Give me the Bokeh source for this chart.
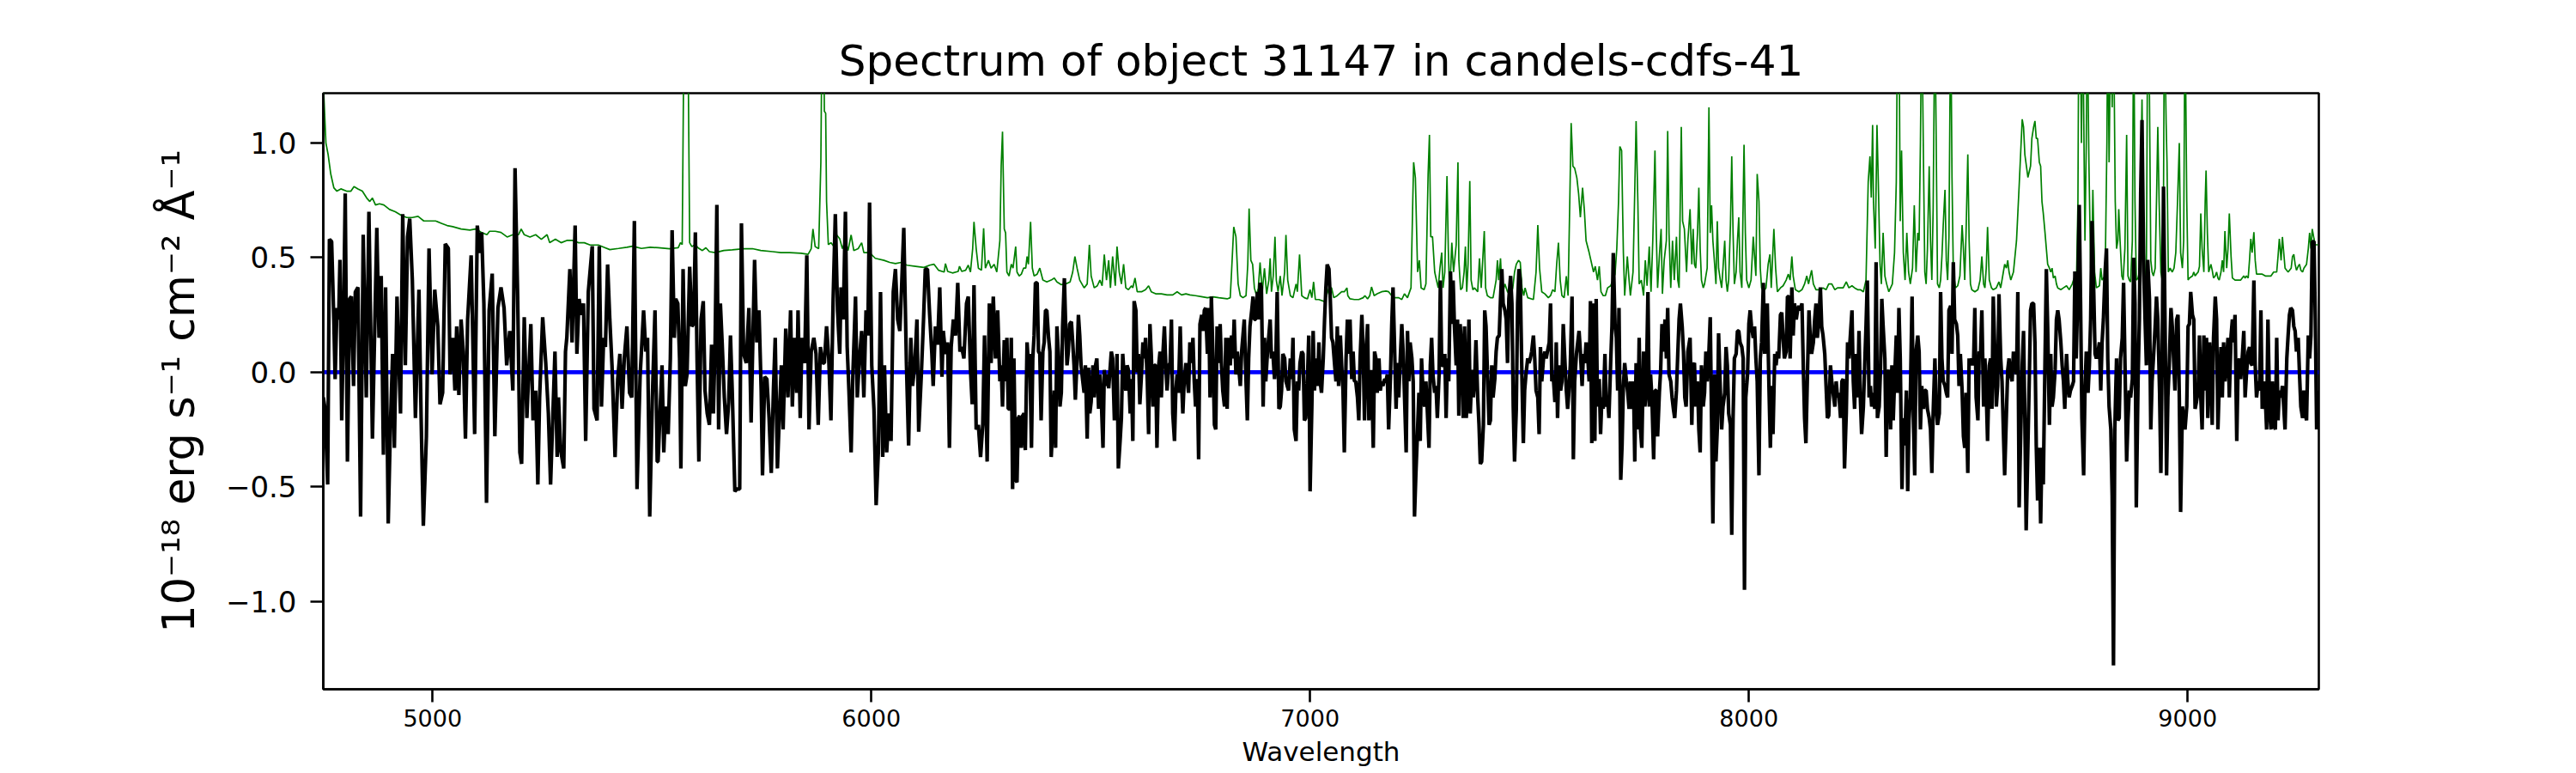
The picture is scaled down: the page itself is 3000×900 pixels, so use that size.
from bokeh.plotting import figure
from bokeh.models import Range1d, FixedTicker, CustomJSTickFormatter, Span
from bokeh.embed import file_html
from bokeh.resources import INLINE

# ---- spectrum (flux, 1e-18 erg/s/cm2/A), by wavelength segment ----
spec_4750_5515 = [(4751,-0.11),(4755,-0.16),(4761,-0.49),(4765,0.58),(4770,0.57),(4775,0.23),(4778,-0.03),(4782,0.28),(4786,0.23),(4789,0.49),(4793,-0.21),(4797,0.20),(4801,0.78),(4806,-0.39),(4811,0.32),(4815,0.33),(4820,-0.06),(4824,0.35),(4830,0.37),(4836,-0.63),(4842,0.60),(4849,-0.11),(4855,0.70),(4863,-0.29),(4873,0.63),(4878,0.15),(4883,0.42),(4888,-0.36),(4893,0.37),(4899,-0.66),(4904,-0.23),(4909,0.08),(4913,-0.33),(4919,0.33),(4923,0.06),(4927,-0.18),(4932,0.69),(4938,0.03),(4943,0.59),(4948,0.67),(4954,0.40),(4961,-0.20),(4969,0.36),(4974,-0.20),(4979,-0.67),(4986,-0.28),(4992,0.54),(4999,-0.01),(5005,0.36),(5012,0.20),(5017,-0.14),(5023,-0.09),(5029,0.56),(5036,0.54),(5040,-0.01),(5046,0.15),(5051,-0.08),(5055,0.20),(5060,-0.10),(5065,0.23),(5070,0.09),(5075,-0.29),(5080,0.23),(5088,0.51),(5096,-0.27),(5102,0.64),(5108,0.52),(5112,0.61),(5117,0.30),(5123,-0.57),(5129,0.27),(5136,0.43),(5142,-0.28),(5149,0.28),(5156,0.37),(5163,0.28),(5169,0.03),(5176,0.18),(5183,-0.08),(5188,0.89),(5194,0.33),(5199,-0.35),(5203,-0.40),(5209,0.24),(5215,-0.20),(5224,0.21),(5229,-0.21),(5235,-0.08),(5240,-0.49),(5244,-0.11),(5251,0.24),(5258,0.04),(5264,-0.18),(5269,-0.49),(5274,-0.20),(5279,0.09),(5284,-0.37),(5287,-0.11),(5292,-0.34),(5299,-0.42),(5303,0.09),(5306,0.15),(5313,0.45),(5318,0.13),(5325,0.64),(5329,0.08),(5334,0.32),(5339,0.25),(5344,0.30),(5349,-0.30),(5355,0.35),(5364,0.55),(5368,-0.16),(5375,-0.21),(5380,0.55),(5385,-0.15),(5390,0.15),(5394,0.11),(5399,0.47),(5404,0.23),(5409,0.03),(5416,-0.37),(5422,-0.03),(5427,0.08),(5432,-0.16),(5437,0.06),(5443,0.20),(5449,-0.09),(5454,-0.11),(5460,0.66),(5466,-0.51),(5473,-0.02),(5481,0.27),(5486,0.09),(5490,0.15),(5495,-0.63),(5501,-0.11),(5507,0.27),(5512,-0.39)]

spec_5515_6295 = [(5514,-0.39),(5519,-0.15),(5523,0.03),(5527,-0.35),(5531,-0.15),(5537,-0.27),(5542,0.06),(5546,0.62),(5551,0.15),(5554,0.32),(5559,0.30),(5563,0.06),(5566,-0.42),(5571,0.45),(5576,-0.06),(5580,-0.01),(5586,0.46),(5591,0.20),(5595,0.21),(5599,0.61),(5603,0.04),(5607,-0.39),(5612,0.23),(5617,0.31),(5621,-0.08),(5626,-0.18),(5631,-0.23),(5636,0.12),(5640,-0.18),(5644,0.13),(5648,0.73),(5652,-0.25),(5656,0.30),(5660,0.13),(5665,-0.11),(5670,-0.27),(5675,-0.13),(5679,0.16),(5683,-0.08),(5689,-0.52),(5694,-0.51),(5700,-0.51),(5704,0.65),(5709,0.08),(5715,0.04),(5721,0.28),(5726,-0.22),(5729,0.05),(5734,0.49),(5739,0.13),(5744,0.27),(5749,-0.08),(5752,-0.45),(5757,-0.02),(5762,-0.03),(5767,-0.20),(5772,-0.44),(5777,-0.07),(5781,0.15),(5786,-0.42),(5791,-0.16),(5795,0.03),(5799,-0.25),(5805,0.19),(5810,-0.11),(5816,0.27),(5820,-0.15),(5825,0.15),(5830,-0.09),(5833,0.27),(5838,-0.20),(5842,0.15),(5848,0.04),(5853,0.51),(5858,-0.25),(5863,0.09),(5869,0.15),(5874,0.08),(5879,-0.23),(5884,0.11),(5889,0.04),(5893,0.04),(5898,0.20),(5903,0.06),(5908,-0.21),(5913,0.32),(5918,0.69),(5923,0.27),(5928,0.08),(5931,0.37),(5936,0.23),(5941,0.70),(5945,0.11),(5949,-0.08),(5954,-0.35),(5958,-0.01),(5964,0.33),(5968,-0.11),(5973,0.06),(5978,0.18),(5983,-0.11),(5988,0.27),(5992,0.16),(5996,0.74),(6001,0.03),(6006,-0.16),(6011,-0.58),(6016,-0.35),(6021,0.35),(6026,-0.37),(6030,0.03),(6035,-0.35),(6040,-0.18),(6045,-0.30),(6050,0.35),(6055,0.45),(6060,0.23),(6065,0.18),(6069,0.37),(6074,0.63),(6080,0.04),(6085,-0.32),(6090,0.15),(6094,-0.06),(6099,0.03),(6104,0.23),(6108,-0.26),(6114,-0.01),(6119,0.23),(6123,0.45),(6128,0.45),(6133,0.25),(6138,0.08),(6141,-0.06),(6146,0.20),(6151,0.12),(6156,0.37),(6161,-0.02),(6164,0.18),(6169,0.08),(6174,0.13),(6178,-0.33),(6182,0.11),(6187,0.23),(6192,0.16),(6197,0.39),(6202,0.09),(6206,0.11),(6211,0.06),(6217,0.30),(6221,0.33),(6226,0.01),(6230,-0.14),(6234,0.38),(6239,-0.25),(6244,-0.23),(6249,-0.37),(6254,-0.23),(6258,0.16),(6264,-0.39),(6269,0.30),(6273,0.04),(6278,0.33),(6283,0.06),(6288,0.27),(6293,-0.04)]

spec_6295_7080 = [(6296,0.03),(6299,-0.15),(6303,0.14),(6306,-0.04),(6309,0.15),(6312,-0.16),(6316,-0.16),(6319,0.15),(6322,-0.51),(6325,0.06),(6329,-0.47),(6332,-0.48),(6335,-0.20),(6338,-0.19),(6342,-0.33),(6345,-0.19),(6348,-0.18),(6351,-0.34),(6355,0.13),(6358,0.03),(6361,0.08),(6365,-0.33),(6368,0.06),(6371,0.16),(6374,0.39),(6378,0.39),(6381,0.09),(6384,0.08),(6387,-0.21),(6391,0.09),(6394,0.13),(6397,0.27),(6400,0.27),(6404,0.15),(6407,0.09),(6410,-0.37),(6413,-0.25),(6417,-0.08),(6420,-0.33),(6423,0.20),(6426,0.09),(6430,-0.15),(6433,-0.09),(6436,0.20),(6440,0.41),(6443,0.20),(6446,0.03),(6449,0.09),(6452,0.21),(6456,0.22),(6459,0.13),(6462,0.03),(6465,-0.12),(6469,0.06),(6472,0.25),(6475,0.16),(6478,0.03),(6482,-0.04),(6485,-0.09),(6488,0.03),(6492,-0.29),(6495,0.02),(6498,-0.18),(6501,-0.13),(6505,0.03),(6508,-0.11),(6511,0.03),(6514,0.06),(6518,-0.16),(6521,-0.01),(6524,-0.11),(6528,-0.33),(6531,0.01),(6534,-0.06),(6537,-0.01),(6541,-0.07),(6544,0.01),(6547,0.09),(6550,0.06),(6554,-0.21),(6557,-0.16),(6560,0.08),(6563,-0.42),(6567,-0.30),(6570,-0.20),(6573,0.08),(6576,-0.01),(6580,-0.08),(6583,0.03),(6586,0.01),(6590,-0.18),(6593,-0.03),(6596,-0.30),(6599,0.31),(6603,0.27),(6606,0.00),(6609,0.08),(6612,-0.14),(6616,0.00),(6619,0.13),(6622,0.06),(6625,0.15),(6629,-0.04),(6632,-0.27),(6635,0.21),(6638,0.08),(6642,-0.15),(6645,0.03),(6648,0.03),(6651,-0.33),(6655,0.03),(6658,0.09),(6661,-0.11),(6664,0.06),(6668,0.20),(6671,0.04),(6674,-0.08),(6678,0.03),(6681,0.04),(6684,0.23),(6687,-0.18),(6691,-0.30),(6694,-0.08),(6697,-0.01),(6700,-0.09),(6704,0.20),(6707,-0.04),(6710,-0.18),(6713,-0.04),(6717,0.04),(6720,-0.03),(6723,-0.09),(6726,0.13),(6730,0.04),(6733,0.15),(6736,-0.04),(6739,-0.15),(6743,-0.03),(6746,-0.38),(6749,0.21),(6753,0.25),(6756,0.18),(6759,0.27),(6762,0.28),(6766,0.08),(6769,0.28),(6772,-0.11),(6775,0.33),(6779,0.04),(6782,-0.23),(6785,-0.25),(6788,0.20),(6792,0.04),(6795,0.21),(6798,0.03),(6801,-0.08),(6805,-0.15),(6808,0.15),(6811,-0.16),(6814,0.15),(6818,0.03),(6821,0.16),(6824,0.06),(6827,0.23),(6831,-0.01),(6834,0.09),(6837,0.03),(6841,-0.06),(6844,0.09),(6847,0.16),(6850,0.23),(6854,-0.04),(6857,-0.21),(6860,0.06),(6863,0.20),(6867,0.27),(6870,0.33),(6873,0.23),(6876,0.23),(6880,0.35),(6883,0.23),(6886,0.39),(6889,0.37),(6893,-0.15),(6896,0.15),(6899,-0.04),(6902,0.06),(6906,0.16),(6909,0.23),(6912,0.06),(6915,0.09),(6919,-0.03),(6922,0.06),(6925,0.35),(6929,-0.16),(6932,-0.15),(6935,-0.08),(6938,0.08),(6942,0.06),(6945,-0.04),(6948,-0.06),(6951,-0.08),(6955,0.06),(6958,-0.03),(6961,0.15),(6964,-0.25),(6968,-0.30),(6971,-0.04),(6974,-0.08),(6977,0.04),(6981,0.09),(6984,0.08),(6987,-0.21),(6990,-0.20),(6994,-0.03),(6997,0.16),(7000,-0.52),(7004,-0.15),(7007,0.18),(7010,-0.08),(7013,0.06),(7017,-0.06),(7020,0.13),(7023,-0.04),(7026,-0.09),(7030,0.06),(7033,0.23),(7036,0.37),(7039,0.47),(7043,0.45),(7046,0.32),(7049,0.15),(7052,0.13),(7056,0.03),(7059,-0.04),(7062,0.20),(7065,-0.06),(7069,0.16),(7072,0.03),(7075,-0.08)]

spec_7080_7860 = [(7078,-0.35),(7082,0.06),(7085,0.23),(7088,0.08),(7091,0.23),(7095,-0.03),(7098,0.09),(7101,-0.04),(7104,-0.04),(7108,-0.11),(7111,-0.21),(7114,0.06),(7118,0.25),(7121,0.09),(7124,-0.21),(7127,0.06),(7131,0.21),(7134,-0.21),(7137,-0.11),(7140,0.01),(7144,-0.33),(7147,0.09),(7150,0.06),(7153,-0.09),(7157,0.06),(7160,-0.08),(7163,-0.04),(7166,-0.06),(7170,-0.03),(7173,-0.04),(7176,-0.01),(7179,-0.25),(7183,-0.03),(7186,0.20),(7189,0.37),(7192,0.15),(7196,-0.16),(7199,0.04),(7202,-0.11),(7206,0.08),(7209,0.21),(7212,0.09),(7215,-0.09),(7219,-0.35),(7222,0.18),(7225,-0.04),(7228,0.13),(7232,0.06),(7235,-0.04),(7238,-0.63),(7241,-0.45),(7245,-0.25),(7248,-0.09),(7251,-0.30),(7254,0.06),(7258,-0.11),(7261,-0.15),(7264,-0.04),(7267,-0.16),(7271,-0.33),(7274,0.03),(7277,0.15),(7280,-0.01),(7284,-0.09),(7287,-0.06),(7290,-0.20),(7294,-0.01),(7297,0.40),(7300,0.03),(7303,0.03),(7307,0.08),(7310,-0.20),(7313,0.06),(7316,-0.04),(7320,0.44),(7323,0.21),(7326,0.40),(7329,0.20),(7333,0.03),(7336,0.23),(7339,-0.19),(7342,0.21),(7346,0.09),(7349,-0.20),(7352,0.20),(7356,-0.20),(7359,-0.06),(7362,0.23),(7365,-0.18),(7369,0.01),(7372,-0.11),(7375,-0.04),(7378,0.14),(7382,-0.11),(7385,-0.23),(7388,-0.40),(7391,-0.39),(7395,-0.23),(7398,0.27),(7401,0.20),(7404,0.01),(7408,-0.23),(7411,-0.21),(7414,0.03),(7417,-0.11),(7421,-0.03),(7424,0.09),(7427,0.15),(7431,0.16),(7434,0.32),(7437,0.45),(7440,0.30),(7444,0.27),(7447,0.23),(7450,0.04),(7453,0.32),(7457,0.42),(7460,0.30),(7463,-0.15),(7466,-0.39),(7470,-0.16),(7473,0.30),(7476,0.45),(7479,0.40),(7483,-0.04),(7486,-0.31),(7489,-0.08),(7492,-0.01),(7496,0.06),(7499,0.04),(7502,0.06),(7505,0.09),(7509,0.16),(7512,0.06),(7515,-0.08),(7519,-0.11),(7522,-0.27),(7525,0.11),(7528,-0.04),(7532,0.06),(7535,0.09),(7538,0.06),(7541,0.09),(7545,0.13),(7548,0.30),(7551,-0.04),(7554,-0.01),(7558,-0.13),(7561,0.13),(7564,-0.20),(7567,0.03),(7571,-0.08),(7574,-0.04),(7577,0.21),(7580,0.08),(7584,-0.08),(7587,-0.16),(7590,-0.08),(7593,0.03),(7597,0.33),(7600,-0.38),(7603,-0.04),(7607,0.08),(7610,0.13),(7613,0.18),(7616,0.09),(7620,-0.06),(7623,0.08),(7626,0.04),(7629,0.13),(7633,0.06),(7636,-0.04),(7639,0.31),(7642,-0.31),(7646,0.30),(7649,-0.30),(7652,0.32),(7655,-0.15),(7659,-0.03),(7662,-0.27),(7665,-0.11),(7668,-0.16),(7672,0.08),(7675,-0.15),(7678,-0.11),(7681,-0.20),(7685,0.04),(7688,0.20),(7691,0.52),(7695,0.21),(7698,0.15),(7701,-0.08),(7704,0.28),(7708,-0.47),(7711,-0.32),(7714,-0.06),(7717,0.04),(7721,-0.04),(7724,-0.09),(7727,-0.16),(7730,-0.04),(7734,-0.16),(7737,-0.04),(7740,-0.39),(7743,0.04),(7747,-0.25),(7750,0.15),(7753,-0.25),(7756,-0.33),(7760,0.09),(7763,-0.15),(7766,-0.09),(7770,0.35),(7773,-0.15),(7776,-0.01),(7779,-0.11),(7783,-0.38),(7786,-0.08),(7789,-0.08),(7792,-0.28),(7796,-0.09),(7799,0.01),(7802,0.21),(7805,0.09),(7809,0.23),(7812,0.06),(7815,0.28),(7818,-0.01),(7822,-0.04),(7825,-0.11),(7828,-0.16),(7831,-0.20),(7835,-0.08),(7838,0.08),(7841,0.23),(7844,0.30),(7848,0.20),(7851,0.09),(7854,-0.11),(7857,-0.15),(7861,0.09)]

spec_7860_8645 = [(7866,0.15),(7870,-0.23),(7873,0.03),(7876,0.04),(7879,-0.15),(7883,-0.04),(7886,-0.25),(7889,-0.35),(7892,0.03),(7896,-0.15),(7899,-0.09),(7902,0.09),(7905,-0.04),(7909,0.09),(7912,0.24),(7915,-0.21),(7918,-0.66),(7922,-0.01),(7925,-0.39),(7928,-0.25),(7931,0.17),(7935,-0.08),(7938,-0.25),(7941,-0.15),(7945,-0.09),(7948,0.11),(7951,0.03),(7954,-0.18),(7958,-0.23),(7961,-0.71),(7964,-0.20),(7967,0.06),(7971,0.08),(7974,0.18),(7977,0.18),(7980,0.13),(7984,0.11),(7987,0.06),(7990,-0.95),(7993,-0.11),(7997,-0.01),(8000,0.21),(8003,0.27),(8006,0.20),(8010,0.15),(8013,0.20),(8016,0.06),(8019,-0.04),(8023,-0.45),(8026,0.06),(8029,0.13),(8033,0.39),(8036,0.08),(8039,0.23),(8042,0.30),(8046,-0.08),(8049,-0.33),(8052,-0.06),(8055,-0.27),(8059,0.08),(8062,0.03),(8065,0.09),(8068,0.06),(8072,0.25),(8075,0.26),(8078,0.15),(8081,0.06),(8085,0.09),(8088,0.33),(8091,0.33),(8094,0.06),(8098,0.37),(8101,0.16),(8104,0.30),(8108,0.23),(8111,0.27),(8114,0.29),(8117,0.27),(8121,0.30),(8124,0.03),(8127,-0.20),(8130,-0.31),(8134,0.03),(8137,0.27),(8140,0.15),(8143,0.08),(8147,0.13),(8150,0.23),(8153,0.30),(8156,0.15),(8160,0.23),(8163,0.37),(8166,0.20),(8169,0.16),(8173,0.08),(8176,-0.06),(8179,-0.20),(8182,-0.19),(8186,0.03),(8189,-0.04),(8192,-0.09),(8196,-0.15),(8199,-0.04),(8202,-0.11),(8205,-0.09),(8209,-0.20),(8212,-0.04),(8215,-0.03),(8218,-0.42),(8222,-0.18),(8225,0.13),(8228,0.06),(8231,0.15),(8235,0.27),(8238,-0.04),(8241,-0.16),(8244,0.08),(8248,-0.11),(8251,0.18),(8254,-0.11),(8257,-0.27),(8261,-0.15),(8264,0.03),(8267,0.20),(8270,0.40),(8274,-0.11),(8277,-0.06),(8280,-0.15),(8284,-0.09),(8287,-0.16),(8290,0.48),(8293,-0.20),(8297,-0.15),(8300,0.01),(8303,0.32),(8306,0.20),(8310,0.06),(8313,-0.37),(8316,-0.01),(8319,0.01),(8323,-0.25),(8326,0.03),(8329,-0.21),(8332,-0.04),(8336,0.16),(8339,-0.09),(8342,0.28),(8345,0.06),(8349,-0.51),(8352,-0.20),(8355,-0.32),(8359,-0.08),(8362,-0.52),(8365,-0.21),(8368,-0.11),(8372,0.33),(8375,-0.21),(8378,-0.45),(8381,0.09),(8385,0.16),(8388,0.09),(8391,-0.25),(8394,-0.06),(8398,-0.16),(8401,-0.08),(8404,-0.08),(8407,-0.16),(8411,-0.20),(8414,-0.25),(8417,-0.44),(8420,-0.18),(8424,0.06),(8427,-0.16),(8430,-0.23),(8434,-0.18),(8437,0.35),(8440,0.06),(8443,-0.04),(8447,-0.06),(8450,-0.09),(8453,-0.11),(8456,0.27),(8460,0.29),(8463,0.08),(8466,0.48),(8469,0.23),(8473,0.21),(8476,0.16),(8479,-0.06),(8482,0.08),(8486,-0.08),(8489,-0.28),(8492,-0.33),(8495,-0.09),(8499,-0.44),(8502,0.06),(8505,0.03),(8508,0.06),(8512,0.03),(8515,0.28),(8518,-0.11),(8522,-0.21),(8525,0.09),(8528,0.08),(8531,0.27),(8535,-0.15),(8538,0.06),(8541,-0.08),(8544,-0.30),(8548,0.03),(8551,0.06),(8554,-0.16),(8557,0.33),(8561,0.06),(8564,-0.15),(8567,-0.06),(8570,0.34),(8574,0.06),(8577,-0.04),(8580,-0.25),(8583,-0.45),(8587,-0.18),(8590,0.01),(8593,0.06),(8596,-0.01),(8600,-0.04),(8603,0.09),(8606,0.06),(8610,-0.01),(8613,0.35),(8616,-0.59),(8619,-0.32),(8623,0.03),(8626,0.18),(8629,-0.20),(8632,-0.69),(8636,-0.32),(8639,-0.04),(8642,0.27),(8645,0.30)]

spec_8645_9300 = [(8649,0.30),(8652,0.13),(8655,-0.32),(8658,-0.56),(8662,-0.33),(8665,-0.66),(8668,-0.33),(8671,-0.49),(8675,0.06),(8678,0.45),(8681,0.20),(8685,-0.23),(8688,0.08),(8691,-0.15),(8694,-0.11),(8698,0.01),(8701,0.23),(8704,0.27),(8707,0.23),(8711,0.13),(8714,0.03),(8717,-0.04),(8720,-0.16),(8724,0.08),(8727,-0.04),(8730,-0.11),(8733,-0.08),(8737,-0.06),(8740,-0.04),(8743,0.44),(8746,0.06),(8750,0.37),(8753,0.73),(8756,0.30),(8759,-0.20),(8763,-0.45),(8766,-0.08),(8769,0.09),(8773,-0.09),(8776,0.03),(8779,0.23),(8782,0.66),(8786,0.35),(8789,0.08),(8792,0.06),(8795,0.08),(8799,0.13),(8802,-0.08),(8805,0.13),(8808,0.23),(8812,0.44),(8815,0.54),(8818,0.06),(8821,-0.15),(8825,-0.25),(8828,-0.54),(8831,-1.28),(8834,-0.25),(8838,0.06),(8841,-0.21),(8844,-0.20),(8847,0.06),(8851,0.15),(8854,0.39),(8857,0.06),(8861,-0.39),(8864,-0.21),(8867,-0.08),(8870,-0.11),(8874,-0.03),(8877,0.50),(8880,0.30),(8883,-0.59),(8887,-0.04),(8890,0.23),(8893,0.78),(8896,1.10),(8900,0.44),(8903,0.23),(8906,0.03),(8909,0.49),(8913,0.32),(8916,-0.25),(8919,-0.04),(8922,0.06),(8926,0.20),(8929,0.33),(8932,0.23),(8936,-0.08),(8939,-0.44),(8942,0.06),(8945,0.81),(8949,0.13),(8952,-0.45),(8955,-0.11),(8958,0.03),(8962,0.28),(8965,0.20),(8968,0.06),(8971,-0.08),(8975,0.23),(8978,0.25),(8981,-0.11),(8984,-0.61),(8988,-0.15),(8991,-0.20),(8994,-0.25),(8998,-0.15),(9001,0.20),(9004,0.21),(9007,0.35),(9011,0.25),(9014,0.23),(9017,-0.16),(9020,-0.13),(9024,-0.08),(9027,0.16),(9030,-0.11),(9033,-0.25),(9037,0.16),(9040,-0.08),(9043,0.15),(9046,-0.20),(9050,0.13),(9053,0.01),(9056,-0.23),(9059,0.15),(9063,0.33),(9066,0.23),(9069,-0.25),(9072,-0.06),(9076,0.11),(9079,-0.11),(9082,0.13),(9085,-0.04),(9089,0.06),(9092,0.15),(9095,-0.11),(9099,0.16),(9102,0.23),(9105,0.13),(9108,0.25),(9112,-0.30),(9115,0.03),(9118,0.06),(9121,-0.03),(9125,0.08),(9128,0.18),(9131,-0.11),(9134,-0.01),(9138,0.09),(9141,0.11),(9144,0.04),(9147,0.03),(9151,0.40),(9154,0.03),(9157,-0.11),(9161,-0.04),(9164,-0.08),(9167,0.27),(9170,-0.16),(9174,-0.04),(9177,-0.11),(9180,-0.25),(9183,0.23),(9187,-0.18),(9190,-0.25),(9193,-0.04),(9196,-0.23),(9200,-0.25),(9203,0.15),(9206,-0.21),(9209,-0.08),(9213,-0.11),(9216,-0.06),(9219,-0.15),(9222,-0.25),(9226,0.06),(9229,0.16),(9232,0.25),(9235,0.28),(9239,0.27),(9242,0.20),(9245,0.18),(9248,0.09),(9252,0.15),(9255,-0.01),(9258,-0.15),(9262,-0.20),(9265,-0.08),(9268,-0.18),(9271,-0.21),(9275,0.16),(9278,0.06),(9281,0.16),(9284,0.57),(9288,0.57),(9291,0.23),(9294,-0.25),(9297,-0.08)]

# ---- noise / sky spectrum (green) ----
sky_4750_5520 = [(4751,1.35),(4752,1.22),(4757,1.00),(4762,0.95),(4768,0.865),(4775,0.805),(4782,0.79),(4791,0.80),(4804,0.79),(4814,0.79),(4821,0.81),(4830,0.80),(4840,0.79),(4850,0.76),(4857,0.745),(4863,0.76),(4870,0.73),(4879,0.735),(4889,0.73),(4902,0.71),(4915,0.70),(4928,0.685),(4941,0.675),(4954,0.675),(4967,0.68),(4980,0.66),(4993,0.66),(5007,0.66),(5020,0.65),(5033,0.64),(5046,0.635),(5065,0.625),(5085,0.62),(5098,0.625),(5111,0.61),(5124,0.60),(5130,0.615),(5143,0.615),(5156,0.61),(5170,0.59),(5183,0.60),(5196,0.60),(5202,0.625),(5209,0.60),(5222,0.59),(5235,0.60),(5248,0.58),(5261,0.60),(5267,0.565),(5280,0.58),(5293,0.565),(5306,0.575),(5319,0.575),(5333,0.565),(5346,0.565),(5359,0.555),(5378,0.555),(5391,0.545),(5404,0.535),(5424,0.54),(5443,0.545),(5456,0.55),(5476,0.54),(5496,0.545)]

sky_5520_6295 = [(5514,0.543),(5540,0.539),(5560,0.543),(5565,0.565),(5569,0.557),(5573,1.5),(5576,2.5),(5579,2.5),(5582,1.5),(5586,0.565),(5591,0.548),(5599,0.557),(5605,0.543),(5615,0.531),(5623,0.543),(5631,0.526),(5644,0.522),(5664,0.531),(5683,0.534),(5709,0.539),(5729,0.539),(5748,0.531),(5775,0.526),(5794,0.522),(5814,0.522),(5840,0.519),(5856,0.514),(5863,0.539),(5867,0.625),(5872,0.548),(5880,0.539),(5885,0.916),(5888,1.6),(5891,1.6),(5893,1.139),(5896,1.130),(5898,0.745),(5902,0.557),(5908,0.565),(5915,0.548),(5921,0.599),(5928,0.582),(5934,0.539),(5941,0.574),(5947,0.531),(5954,0.599),(5960,0.531),(5970,0.539),(5978,0.565),(5983,0.522),(5996,0.522),(6009,0.497),(6029,0.488),(6042,0.479),(6055,0.474),(6068,0.479),(6081,0.467),(6101,0.462),(6120,0.457),(6133,0.467),(6143,0.471),(6153,0.445),(6166,0.437),(6169,0.474),(6174,0.440),(6185,0.433),(6198,0.440),(6201,0.462),(6206,0.440),(6215,0.445),(6221,0.467),(6226,0.437),(6231,0.539),(6234,0.656),(6239,0.539),(6244,0.454),(6251,0.445),(6256,0.628),(6260,0.454),(6267,0.488),(6273,0.454),(6280,0.471),(6286,0.437),(6293,0.574)]

sky_6295_7080 = [(6296,0.90),(6299,1.05),(6303,0.625),(6306,0.608),(6309,0.437),(6314,0.420),(6319,0.471),(6323,0.454),(6329,0.548),(6332,0.437),(6337,0.420),(6342,0.428),(6347,0.454),(6352,0.454),(6355,0.505),(6358,0.471),(6363,0.656),(6367,0.454),(6371,0.420),(6378,0.428),(6384,0.454),(6391,0.402),(6400,0.394),(6410,0.402),(6417,0.411),(6423,0.394),(6433,0.382),(6443,0.385),(6453,0.394),(6459,0.437),(6464,0.505),(6469,0.454),(6475,0.402),(6485,0.368),(6492,0.385),(6497,0.556),(6501,0.420),(6508,0.368),(6515,0.377),(6521,0.402),(6526,0.377),(6531,0.514),(6536,0.402),(6541,0.488),(6545,0.368),(6550,0.505),(6556,0.377),(6560,0.548),(6565,0.437),(6570,0.385),(6575,0.471),(6580,0.368),(6586,0.360),(6593,0.377),(6596,0.368),(6601,0.411),(6606,0.351),(6616,0.351),(6625,0.360),(6632,0.377),(6638,0.351),(6648,0.342),(6661,0.342),(6674,0.337),(6687,0.337),(6697,0.351),(6707,0.337),(6717,0.342),(6726,0.337),(6739,0.334),(6752,0.330),(6766,0.325),(6779,0.329),(6792,0.325),(6811,0.320),(6818,0.325),(6821,0.437),(6826,0.634),(6831,0.591),(6836,0.385),(6841,0.334),(6847,0.325),(6854,0.334),(6858,0.471),(6861,0.714),(6865,0.488),(6869,0.471),(6873,0.368),(6878,0.334),(6882,0.368),(6886,0.479),(6891,0.351),(6896,0.454),(6901,0.342),(6906,0.402),(6909,0.497),(6912,0.351),(6916,0.420),(6920,0.591),(6923,0.402),(6927,0.351),(6932,0.420),(6936,0.334),(6942,0.437),(6945,0.599),(6949,0.402),(6955,0.334),(6961,0.325),(6968,0.385),(6971,0.351),(6976,0.514),(6981,0.334),(6987,0.325),(6994,0.320),(7000,0.360),(7004,0.325),(7008,0.394),(7012,0.317),(7020,0.317),(7033,0.308),(7043,0.368),(7049,0.368),(7054,0.325),(7062,0.334),(7072,0.351)]

sky_7080_7860 = [(7078,0.351),(7084,0.368),(7086,0.334),(7091,0.320),(7101,0.317),(7111,0.317),(7121,0.325),(7125,0.334),(7131,0.320),(7136,0.334),(7140,0.372),(7146,0.334),(7153,0.342),(7163,0.351),(7173,0.354),(7179,0.351),(7186,0.334),(7192,0.325),(7202,0.325),(7209,0.317),(7215,0.342),(7222,0.325),(7230,0.368),(7234,0.745),(7236,0.916),(7240,0.848),(7245,0.437),(7249,0.488),(7253,0.368),(7260,0.360),(7264,0.385),(7269,0.865),(7272,1.036),(7275,0.591),(7279,0.591),(7284,0.437),(7288,0.402),(7292,0.368),(7296,0.454),(7300,0.522),(7303,0.368),(7307,0.437),(7312,0.856),(7315,0.539),(7318,0.334),(7323,0.565),(7327,0.437),(7333,0.556),(7337,0.916),(7339,0.488),(7343,0.360),(7347,0.368),(7351,0.437),(7354,0.548),(7357,0.351),(7360,0.471),(7364,0.834),(7367,0.402),(7371,0.360),(7375,0.368),(7382,0.351),(7386,0.497),(7390,0.368),(7397,0.616),(7400,0.368),(7404,0.334),(7411,0.325),(7417,0.325),(7424,0.402),(7427,0.488),(7430,0.402),(7434,0.497),(7438,0.334),(7444,0.385),(7450,0.351),(7457,0.334),(7462,0.368),(7466,0.437),(7470,0.471),(7475,0.488),(7479,0.479),(7483,0.368),(7487,0.334),(7490,0.368),(7496,0.325),(7509,0.317),(7515,0.437),(7519,0.642),(7523,0.454),(7528,0.351),(7535,0.342),(7543,0.325),(7548,0.334),(7553,0.360),(7558,0.351),(7562,0.471),(7566,0.565),(7570,0.402),(7574,0.334),(7579,0.325),(7584,0.419),(7588,0.334),(7592,0.762),(7595,1.087),(7599,0.899),(7603,0.890),(7608,0.848),(7612,0.779),(7616,0.676),(7621,0.805),(7625,0.710),(7629,0.574),(7636,0.522),(7640,0.488),(7646,0.437),(7650,0.462),(7655,0.402),(7659,0.462),(7663,0.351),(7668,0.334),(7673,0.334),(7678,0.368),(7685,0.377),(7690,0.402),(7695,0.428),(7699,0.539),(7703,0.745),(7706,0.985),(7710,0.967),(7714,0.522),(7717,0.334),(7723,0.505),(7727,0.402),(7730,0.334),(7736,0.437),(7740,0.796),(7743,1.096),(7747,0.745),(7750,0.385),(7755,0.402),(7760,0.334),(7764,0.488),(7768,0.377),(7773,0.548),(7777,0.351),(7781,0.574),(7786,0.967),(7789,0.608),(7792,0.368),(7796,0.505),(7800,0.625),(7803,0.342),(7807,0.488),(7812,0.574),(7815,1.053),(7818,0.608),(7822,0.368),(7826,0.574),(7830,0.402),(7835,0.591),(7838,0.402),(7841,0.368),(7846,1.07),(7849,0.659),(7853,0.625),(7858,0.437),(7861,0.574)]

sky_7860_8645 = [(7866,0.711),(7870,0.471),(7873,0.625),(7876,0.471),(7879,0.454),(7883,0.608),(7886,0.805),(7889,0.539),(7892,0.402),(7896,0.368),(7899,0.385),(7902,0.420),(7905,0.454),(7909,1.156),(7912,0.608),(7915,0.728),(7918,0.574),(7922,0.471),(7925,0.385),(7928,0.659),(7931,0.454),(7935,0.402),(7938,0.368),(7941,0.454),(7945,0.574),(7948,0.402),(7951,0.351),(7954,0.402),(7958,0.642),(7961,0.942),(7964,0.608),(7967,0.385),(7971,0.437),(7974,0.574),(7977,0.676),(7980,0.437),(7984,0.368),(7987,0.745),(7989,0.993),(7992,0.608),(7995,0.402),(8000,0.368),(8005,0.402),(8010,0.591),(8013,0.505),(8016,0.420),(8019,0.865),(8023,0.745),(8026,0.454),(8029,0.368),(8033,0.351),(8039,0.368),(8044,0.471),(8048,0.514),(8051,0.368),(8055,0.539),(8057,0.625),(8061,0.454),(8065,0.351),(8072,0.368),(8078,0.377),(8085,0.402),(8090,0.428),(8094,0.402),(8098,0.505),(8101,0.420),(8106,0.360),(8114,0.351),(8121,0.360),(8127,0.385),(8132,0.420),(8136,0.385),(8140,0.420),(8143,0.445),(8147,0.385),(8153,0.360),(8163,0.360),(8169,0.368),(8176,0.360),(8182,0.385),(8189,0.385),(8196,0.360),(8202,0.368),(8209,0.368),(8215,0.368),(8222,0.394),(8228,0.368),(8235,0.377),(8241,0.368),(8248,0.360),(8254,0.360),(8261,0.351),(8267,0.402),(8272,0.830),(8276,0.942),(8279,0.762),(8282,1.079),(8284,0.745),(8288,0.539),(8292,1.079),(8295,0.830),(8299,0.471),(8302,0.385),(8306,0.608),(8310,0.420),(8314,0.385),(8319,0.351),(8327,0.385),(8332,0.522),(8336,0.830),(8339,1.6),(8342,1.6),(8345,0.659),(8348,0.967),(8352,0.522),(8356,0.402),(8360,0.608),(8364,0.437),(8368,0.385),(8373,0.454),(8377,0.728),(8381,0.437),(8385,0.608),(8388,0.574),(8391,1.0),(8394,1.6),(8398,0.916),(8401,0.437),(8404,0.385),(8407,0.539),(8411,0.899),(8414,0.574),(8417,0.402),(8420,0.711),(8424,1.6),(8427,1.0),(8430,0.385),(8434,0.368),(8437,0.402),(8440,0.505),(8443,0.642),(8447,0.796),(8450,0.488),(8453,0.402),(8456,0.591),(8460,1.6),(8463,0.848),(8466,0.437),(8471,0.368),(8476,0.377),(8481,0.420),(8486,0.642),(8489,0.539),(8492,0.402),(8495,0.608),(8499,0.950),(8502,0.574),(8505,0.385),(8508,0.360),(8515,0.351),(8522,0.360),(8527,0.402),(8531,0.505),(8535,0.385),(8538,0.368),(8541,0.454),(8544,0.634),(8548,0.402),(8553,0.368),(8557,0.360),(8564,0.368),(8570,0.394),(8574,0.368),(8580,0.437),(8583,0.471),(8587,0.454),(8590,0.488),(8593,0.437),(8597,0.402),(8603,0.437),(8610,0.574),(8616,0.813),(8623,1.104),(8626,1.07),(8629,0.95),(8636,0.85),(8642,0.90)]

sky_8645_9300 = [(8645,1.02),(8649,1.07),(8652,1.096),(8655,1.02),(8658,1.02),(8662,0.916),(8665,0.899),(8668,0.745),(8671,0.693),(8675,0.608),(8678,0.539),(8681,0.471),(8685,0.454),(8688,0.437),(8691,0.454),(8694,0.411),(8698,0.420),(8701,0.385),(8704,0.368),(8711,0.360),(8717,0.368),(8724,0.377),(8730,0.360),(8737,0.385),(8743,0.420),(8747,0.437),(8750,0.745),(8752,1.6),(8755,1.6),(8758,1.0),(8761,1.6),(8765,0.745),(8766,0.574),(8769,1.0),(8771,1.6),(8775,0.916),(8779,0.454),(8782,0.522),(8784,0.796),(8788,0.437),(8792,0.368),(8799,0.377),(8802,0.454),(8805,0.402),(8812,0.420),(8816,1.0),(8818,1.6),(8821,0.916),(8825,1.6),(8828,1.156),(8831,1.6),(8835,0.745),(8838,0.539),(8841,0.574),(8843,0.711),(8846,0.574),(8850,0.420),(8853,0.402),(8857,0.539),(8861,1.036),(8864,0.420),(8867,0.402),(8870,0.394),(8874,0.574),(8877,1.6),(8880,0.745),(8883,0.402),(8887,0.411),(8890,0.437),(8893,0.830),(8896,1.19),(8900,0.574),(8903,0.420),(8906,0.437),(8909,1.6),(8913,1.207),(8916,0.488),(8919,0.437),(8922,0.420),(8926,0.454),(8929,0.745),(8932,1.07),(8935,0.745),(8939,0.437),(8942,0.402),(8945,0.745),(8947,1.6),(8951,1.087),(8953,0.916),(8956,0.437),(8960,0.454),(8965,0.437),(8969,0.454),(8973,0.522),(8977,0.745),(8981,1.0),(8984,0.522),(8988,0.454),(8991,0.574),(8994,1.6),(8998,0.745),(9001,0.402),(9004,0.411),(9011,0.420),(9014,0.437),(9017,0.420),(9020,0.428),(9024,0.437),(9027,0.462),(9030,0.693),(9033,0.539),(9037,0.437),(9040,0.745),(9042,0.88),(9045,0.608),(9048,0.437),(9053,0.471),(9056,0.445),(9059,0.411),(9063,0.420),(9066,0.437),(9069,0.411),(9072,0.402),(9076,0.437),(9079,0.488),(9082,0.437),(9085,0.616),(9089,0.454),(9092,0.539),(9095,0.693),(9099,0.505),(9102,0.411),(9108,0.402),(9115,0.402),(9121,0.402),(9128,0.420),(9131,0.411),(9134,0.420),(9138,0.411),(9141,0.488),(9144,0.582),(9147,0.522),(9151,0.611),(9154,0.488),(9157,0.428),(9164,0.428),(9170,0.428),(9177,0.420),(9183,0.420),(9190,0.420),(9196,0.437),(9203,0.437),(9206,0.505),(9209,0.582),(9213,0.488),(9216,0.590),(9219,0.522),(9222,0.454),(9229,0.437),(9236,0.454),(9239,0.505),(9242,0.514),(9245,0.471),(9248,0.445),(9252,0.462),(9255,0.471),(9258,0.445),(9262,0.437),(9265,0.454),(9271,0.471),(9275,0.539),(9278,0.608),(9281,0.539),(9284,0.625),(9288,0.582),(9291,0.556),(9297,0.556)]

x_ticks = [5000, 6000, 7000, 8000, 9000]
y_ticks = [-1.0, -0.5, 0.0, 0.5, 1.0]
zero_level = 0.0
x_limits = (4751, 9299)
y_limits = (-1.3836, 1.2175)

title_text = "Spectrum of object 31147 in candels-cdfs-41"
x_label = "Wavelength"
y_label = "10\u207b\u00b9\u2078 erg s\u207b\u00b9 cm\u207b\u00b2 \u00c5\u207b\u00b9"

spec_segments = [spec_4750_5515, spec_5515_6295, spec_6295_7080, spec_7080_7860, spec_7860_8645, spec_8645_9300]
sky_segments = [sky_4750_5520, sky_5520_6295, sky_6295_7080, sky_7080_7860, sky_7860_8645, sky_8645_9300]

spec_wave = [w for seg in spec_segments for (w, f) in seg]
spec_flux = [f for seg in spec_segments for (w, f) in seg]
sky_wave = [w for seg in sky_segments for (w, f) in seg]
sky_flux = [f for seg in sky_segments for (w, f) in seg]

FONT = "DejaVu Sans"

p = figure(width=2984, height=900, output_backend="svg", toolbar_location=None,
           x_range=Range1d(*x_limits), y_range=Range1d(*y_limits),
           min_border_left=376, min_border_right=284, min_border_top=108, min_border_bottom=98,
           title=title_text)

p.background_fill_color = "white"
p.border_fill_color = "white"
p.outline_line_color = "black"
p.outline_line_width = 2.6
p.xgrid.visible = False
p.ygrid.visible = False

p.title.align = "center"
p.title.text_font = FONT
p.title.text_font_size = "50px"
p.title.text_font_style = "normal"
p.title.text_color = "black"
p.title.standoff = 17

zero = Span(location=zero_level, dimension="width", line_color="#0000ff", line_width=4.6, level="underlay")
p.add_layout(zero)

p.line(sky_wave, sky_flux, line_color="#008000", line_width=1.7)
p.line(spec_wave, spec_flux, line_color="black", line_width=4.2)

xa = p.xaxis[0]
xa.ticker = FixedTicker(ticks=x_ticks)
xa.axis_label = x_label
xa.axis_label_text_font = FONT
xa.axis_label_text_font_size = "31px"
xa.axis_label_text_font_style = "normal"
xa.axis_label_standoff = 8
xa.major_label_text_font = FONT
xa.major_label_text_font_size = "27px"
xa.major_label_standoff = 8

ya = p.yaxis[0]
ya.ticker = FixedTicker(ticks=y_ticks)
ya.formatter = CustomJSTickFormatter(code="return tick.toFixed(1).replace('-', '\u2212');")
ya.axis_label = y_label
ya.axis_label_text_font = FONT
ya.axis_label_text_font_size = "51px"
ya.axis_label_text_font_style = "normal"
ya.axis_label_standoff = 22
ya.major_label_text_font = FONT
ya.major_label_text_font_size = "34px"
ya.major_label_standoff = 16

for ax in (xa, ya):
    ax.axis_line_width = 2.6
    ax.axis_line_color = "black"
    ax.major_tick_line_width = 2.6
    ax.major_tick_line_color = "black"
    ax.major_tick_out = 15
    ax.major_tick_in = 0
    ax.minor_tick_out = 0
    ax.minor_tick_in = 0
    ax.major_label_text_color = "black"
    ax.axis_label_text_color = "black"

with open("out.html", "w", encoding="utf-8") as fh:
    fh.write(file_html(p, INLINE))
